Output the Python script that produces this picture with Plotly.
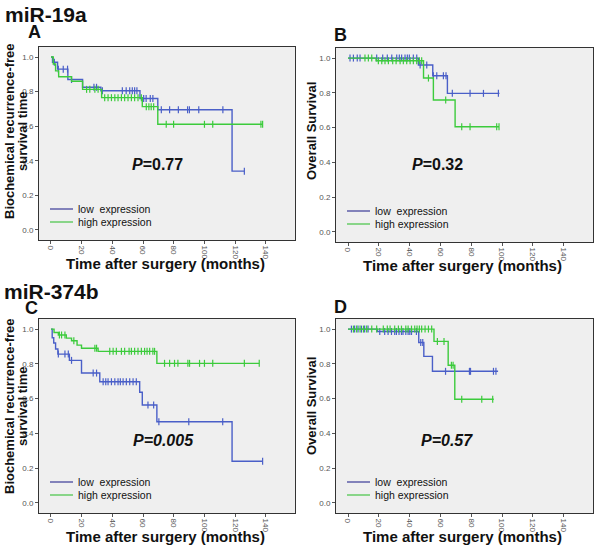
import plotly.graph_objects as go
import numpy as np

# Kaplan-Meier step curves (months, survival)
A_low_t = [0, 1, 4.3, 11, 20.6, 32.5, 58, 69.6, 118, 126]
A_low_s = [1.0, 0.97, 0.93, 0.87, 0.825, 0.805, 0.76, 0.695, 0.34, 0.34]
A_low_cens = [2.2, 4.8, 8, 10.8, 13.4, 28, 29.7, 33.5, 46.5, 49, 51.3, 53, 54.5, 56,
              60.4, 62, 64.7, 66.4, 71.9, 77.3, 83, 89, 90.2, 96.3, 112, 126]
A_high_t = [0, 1.5, 3, 5, 13.4, 20.6, 33, 59.5, 69.6, 138]
A_high_s = [1.0, 0.96, 0.92, 0.886, 0.86, 0.813, 0.765, 0.713, 0.611, 0.611]
A_high_cens = [23.2, 25.3, 28.6, 30.7, 35, 37.2, 39.4, 41.6, 43.7, 45.9, 48, 50.2, 52.4,
               54.5, 56.7, 58.9, 62.1, 63.8, 65.3, 66.9, 75.1, 79.9, 100, 105.4, 136.8, 137.9]

B_low_t = [0, 45.7, 55, 64.5, 98.3]
B_low_s = [1.0, 0.96, 0.898, 0.797, 0.797]
B_low_cens = [1.3, 3.5, 6, 7.8, 18.6, 22.5, 25.5, 28.4, 31.6, 33.3, 34.8, 37, 38.5, 39.8,
              42.4, 44.6, 46.8, 51.1, 55.4, 57.6, 61.9, 63.6, 67.7, 79.2, 87.9, 97.6]
B_high_t = [0, 18.2, 49, 55.4, 69.5, 98]
B_high_s = [1.0, 0.985, 0.885, 0.759, 0.605, 0.605]
B_high_cens = [11, 13.2, 15.4, 19.7, 21.9, 24, 26.2, 29, 31.2, 33.8, 35.9, 38.1, 40.3,
               42.4, 44.6, 46.3, 47.8, 52.2, 63.4, 73.8, 79.2, 96.5, 98]

C_low_t = [0, 0.8, 1.8, 3, 4.5, 12, 19.9, 31.8, 57.8, 59.5, 69, 118, 137.9]
C_low_s = [1.0, 0.95, 0.92, 0.885, 0.856, 0.82, 0.747, 0.697, 0.637, 0.563, 0.467, 0.24, 0.24]
C_low_cens = [4.8, 9.1, 11.3, 13.4, 27.5, 29.7, 34, 35.7, 37.2, 39.4, 41.6, 43.7, 45.2, 47,
              49.1, 51.3, 53.5, 55.6, 63.2, 66.9, 70.3, 89.8, 111.9, 137.9]
C_high_t = [0, 2, 4.8, 10, 13.4, 17, 19.9, 30.7, 69, 135.7]
C_high_s = [1.0, 0.98, 0.966, 0.948, 0.933, 0.908, 0.89, 0.872, 0.803, 0.803]
C_high_cens = [5.5, 6.9, 9.1, 14.9, 28.6, 29.7, 38.3, 40.5, 42.6, 45.9, 48, 50.9, 52.4, 54.5,
               56.7, 58.9, 61, 62.6, 64.3, 66.4, 67.5, 74, 77.3, 80.5, 82.7, 89.2, 90.3,
               96.8, 100, 105.4, 126, 135.7]

D_low_t = [0, 19, 45.9, 49.2, 54.8, 97.4]
D_low_s = [1.0, 0.986, 0.923, 0.843, 0.757, 0.757]
D_low_cens = [2.2, 4.3, 6.5, 8.7, 10.8, 13, 20.6, 23.8, 26, 28.2, 30.3, 31.4, 33.1, 34.7,
              35.7, 37.5, 39, 40.1, 41.2, 44.4, 47.2, 48.5, 63.3, 78.8, 79.5, 94.4, 96]
D_high_t = [0, 55.8, 65, 69.3, 94.6]
D_high_s = [1.0, 0.929, 0.792, 0.596, 0.596]
D_high_cens = [3.5, 5.6, 7.8, 10, 12.1, 15.4, 18.6, 22.9, 25.5, 27.3, 30.3, 32.7, 34.7, 37.5,
               39, 41.2, 43.3, 44.8, 46.3, 47.8, 50, 52.2, 54.3, 58, 62.3, 67.1, 68.2, 73.8,
               86.8, 93.9]

x_ticks = [0, 20, 40, 60, 80, 100, 120, 140]
y_ticks = [0.0, 0.2, 0.4, 0.6, 0.8, 1.0]

BLUE = '#4a5fc8'
GREEN = '#3ccb3c'
LEG_BLUE = '#3a3a96'
LEG_GREEN = '#45c445'

fig = go.Figure()

W, H = 600, 553


def px(x):
    return x / W


def py(y):
    return 1 - y / H


def note(x, y, text, size, xanchor='center', angle=0, color='#111'):
    fig.add_annotation(x=px(x), y=py(y), xref='paper', yref='paper', text=text,
                       showarrow=False, xanchor=xanchor, yanchor='middle', borderpad=0,
                       textangle=angle, font=dict(size=size, color=color, family='Arial'))


# panel boxes in pixels: (left, top, right, bottom)
panels = [
    dict(box=(39, 47, 295, 240), low=(A_low_t, A_low_s, A_low_cens),
         high=(A_high_t, A_high_s, A_high_cens)),
    dict(box=(336, 48, 593, 242), low=(B_low_t, B_low_s, B_low_cens),
         high=(B_high_t, B_high_s, B_high_cens)),
    dict(box=(39, 319, 295, 513), low=(C_low_t, C_low_s, C_low_cens),
         high=(C_high_t, C_high_s, C_high_cens)),
    dict(box=(336, 319, 593, 513), low=(D_low_t, D_low_s, D_low_cens),
         high=(D_high_t, D_high_s, D_high_cens)),
]

layout_axes = {}
for i, p in enumerate(panels):
    n = '' if i == 0 else str(i + 1)
    l, t, r, b = p['box']
    for key, color in (('low', BLUE), ('high', GREEN)):
        times, surv, cens = p[key]
        fig.add_trace(go.Scatter(
            x=times, y=surv, mode='lines', line=dict(color=color, width=1.4, shape='hv'),
            xaxis='x' + n, yaxis='y' + n, showlegend=False, hoverinfo='skip'))
        idx = np.searchsorted(np.array(times), np.array(cens), side='right') - 1
        cy = np.array(surv)[idx]
        fig.add_trace(go.Scatter(
            x=cens, y=cy, mode='markers',
            marker=dict(symbol='line-ns', size=5, line=dict(color=color, width=1.2)),
            xaxis='x' + n, yaxis='y' + n, showlegend=False, hoverinfo='skip'))
    layout_axes['xaxis' + n] = dict(
        domain=[px(l), px(r)], range=[-7.8, 159], anchor='y' + n,
        tickvals=x_ticks, ticktext=[str(v) for v in x_ticks], tickangle=90,
        ticks='outside', ticklen=3, tickcolor='#555',
        tickfont=dict(size=8, color='#555', family='Arial'),
        showgrid=False, zeroline=False, showline=True, mirror=True,
        linecolor='#333', linewidth=1)
    layout_axes['yaxis' + n] = dict(
        domain=[py(b), py(t)], range=[-0.058, 1.058], anchor='x' + n,
        tickvals=y_ticks, ticktext=['%.1f' % v for v in y_ticks],
        ticks='outside', ticklen=3, tickcolor='#555',
        tickfont=dict(size=8, color='#555', family='Arial'),
        showgrid=False, zeroline=False, showline=True, mirror=True,
        linecolor='#333', linewidth=1)

    # legend drawn inside the plot
    for k, (lab, col) in enumerate((('low&nbsp;&nbsp;expression', LEG_BLUE),
                                     ('high expression', LEG_GREEN))):
        yy = b - 31 + k * 13
        fig.add_shape(type='line', xref='paper', yref='paper',
                      x0=px(l + 11), x1=px(l + 34), y0=py(yy), y1=py(yy),
                      line=dict(color=col, width=1.2))
        note(l + 38, yy, lab, 10.5, xanchor='left')

    # x title
    note((l + r) / 2 - 2, b + 23, '<b>Time after surgery (months)</b>', 15)

fig.update_layout(**layout_axes)

# y titles
for yc in (131, 406):
    note(9, yc, '<b>Biochemical recurrence-free</b>', 13, angle=-90)
    note(22, yc, '<b>survival time</b>', 13, angle=-90)
    note(311, yc, '<b>Overall Survival</b>', 13, angle=-90)

# P values
p_texts = [(158, 165, '<b><i>P</i>=0.77</b>'), (437, 165, '<b><i>P</i>=0.32</b>'),
           (163, 440, '<b><i>P=0.005</i></b>'), (447, 440, '<b><i>P=0.57</i></b>')]
for xc, yc, txt in p_texts:
    note(xc, yc, txt, 16)

# panel headers
headers = [(4, 14, 'miR-19a', 21, 'left'), (34, 32, 'A', 18, 'center'),
           (340, 35, 'B', 18, 'center'), (3, 291, 'miR-374b', 21, 'left'),
           (31, 308, 'C', 18, 'center'), (340, 307, 'D', 18, 'center')]
for xc, yc, txt, sz, anc in headers:
    note(xc, yc, '<b>%s</b>' % txt, sz, xanchor=anc)

fig.update_layout(width=W, height=H, margin=dict(l=0, r=0, t=0, b=0),
                  plot_bgcolor='#efefef', paper_bgcolor='white', showlegend=False)

# drop the browser's default body margin so the figure sits at the page corner
fig.write_html("out.html", config={'displayModeBar': False},
               post_script="document.body.style.margin='0';")
